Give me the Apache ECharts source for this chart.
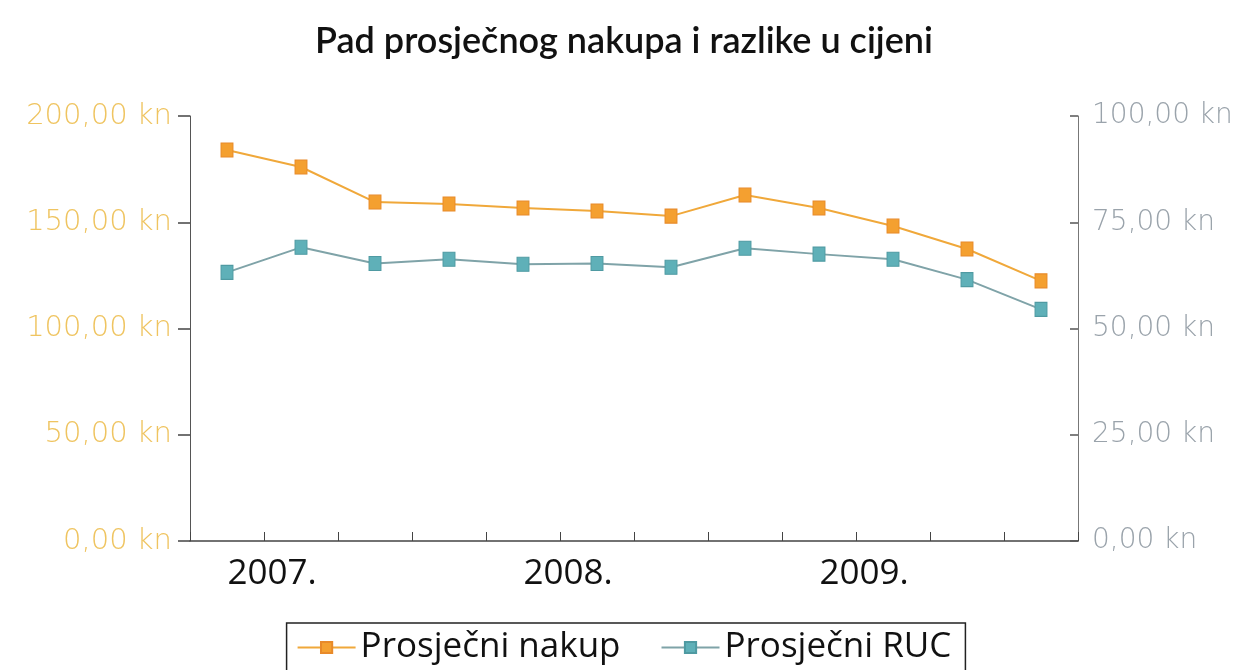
<!DOCTYPE html>
<html>
<head>
<meta charset="utf-8">
<script src="https://cdn.jsdelivr.net/npm/echarts@6/dist/echarts.min.js"></script>
<style>
html, body { margin: 0; padding: 0; background: #fff; }
#main { width: 1248px; height: 670px; }
</style>
</head>
<body>
<div id="main"></div>
<script>
// kvartali 2007. - 2009.
var quarters = ['2007. Q1', '2007. Q2', '2007. Q3', '2007. Q4',
                '2008. Q1', '2008. Q2', '2008. Q3', '2008. Q4',
                '2009. Q1', '2009. Q2', '2009. Q3', '2009. Q4'];
var yearLabels = ['2007.', '', '', '', '2008.', '', '', '', '2009.', '', '', ''];
var nakup = [184.0, 176.0, 159.5, 158.6, 156.7, 155.3, 152.9, 162.8, 156.7, 148.2, 137.4, 122.4];
var ruc = [63.2, 69.1, 65.3, 66.3, 65.1, 65.3, 64.4, 68.9, 67.5, 66.3, 61.5, 54.5];

var font = 'Open Sans';
var axisFont = 'DejaVu Sans';

function knFormat(v) {
    return v.toFixed(2).replace('.', ',') + ' kn';
}

var dom = document.getElementById('main');
var myChart = echarts.init(dom);
var option = null;

option = {
    backgroundColor: '#ffffff',
    animation: false,
    title: {
        text: 'Pad prosječnog nakupa i razlike u cijeni',
        left: 'center',
        top: 18,
        textStyle: { fontFamily: 'Lato', fontSize: 36, fontWeight: 600, color: '#111' }
    },
    grid: { left: 190, right: 170, top: 116, bottom: 129 },
    legend: {
        top: 623,
        left: 'center',
        itemGap: 40,
        itemWidth: 58,
        itemHeight: 14,
        padding: [7, 14, 30, 10],
        borderColor: '#222',
        borderWidth: 1.5,
        textStyle: { fontFamily: font, fontSize: 35, color: '#111' },
        data: ['Prosječni nakup', 'Prosječni RUC']
    },
    xAxis: {
        type: 'category',
        data: quarters,
        boundaryGap: true,
        axisLine: { lineStyle: { color: '#444', width: 1.5 } },
        axisTick: { show: true, inside: true, length: 9, lineStyle: { color: '#444' } },
        axisLabel: {
            interval: 0,
            margin: 16,
            fontFamily: font,
            fontSize: 35,
            color: '#111',
            formatter: function (val, idx) { return yearLabels[idx]; },
            padding: [0, 0, 0, 90]
        }
    },
    yAxis: [
        {
            type: 'value',
            min: 0, max: 200, interval: 50,
            splitLine: { show: false },
            axisLine: { show: true, lineStyle: { color: '#555', width: 1 } },
            axisTick: { show: true, length: 12, lineStyle: { color: '#444', width: 1.5 } },
            axisLabel: {
                margin: 18,
                fontFamily: axisFont,
                fontWeight: 200,
                fontSize: 29,
                color: '#efc460',
                formatter: knFormat
            }
        },
        {
            type: 'value',
            min: 0, max: 100, interval: 25,
            splitLine: { show: false },
            axisLine: { show: true, lineStyle: { color: '#777', width: 1 } },
            axisTick: { show: true, inside: true, length: 8, lineStyle: { color: '#555', width: 1.5 } },
            axisLabel: {
                margin: 14,
                fontFamily: axisFont,
                fontWeight: 200,
                fontSize: 28,
                color: '#9aa3ab',
                formatter: knFormat
            }
        }
    ],
    series: [
        {
            name: 'Prosječni nakup',
            type: 'line',
            yAxisIndex: 0,
            data: nakup,
            symbol: 'rect',
            symbolSize: [12, 14],
            lineStyle: { color: '#f0a83a', width: 2 },
            itemStyle: { color: '#f4a030', borderColor: '#e88a2a', borderWidth: 1 }
        },
        {
            name: 'Prosječni RUC',
            type: 'line',
            yAxisIndex: 1,
            data: ruc,
            symbol: 'rect',
            symbolSize: [12, 14],
            lineStyle: { color: '#7fa3a8', width: 2 },
            itemStyle: { color: '#5fb0b8', borderColor: '#4f9aa2', borderWidth: 1 }
        }
    ]
};

if (option && typeof option === "object") {
    myChart.setOption(option, true);
}
</script>
</body>
</html>
